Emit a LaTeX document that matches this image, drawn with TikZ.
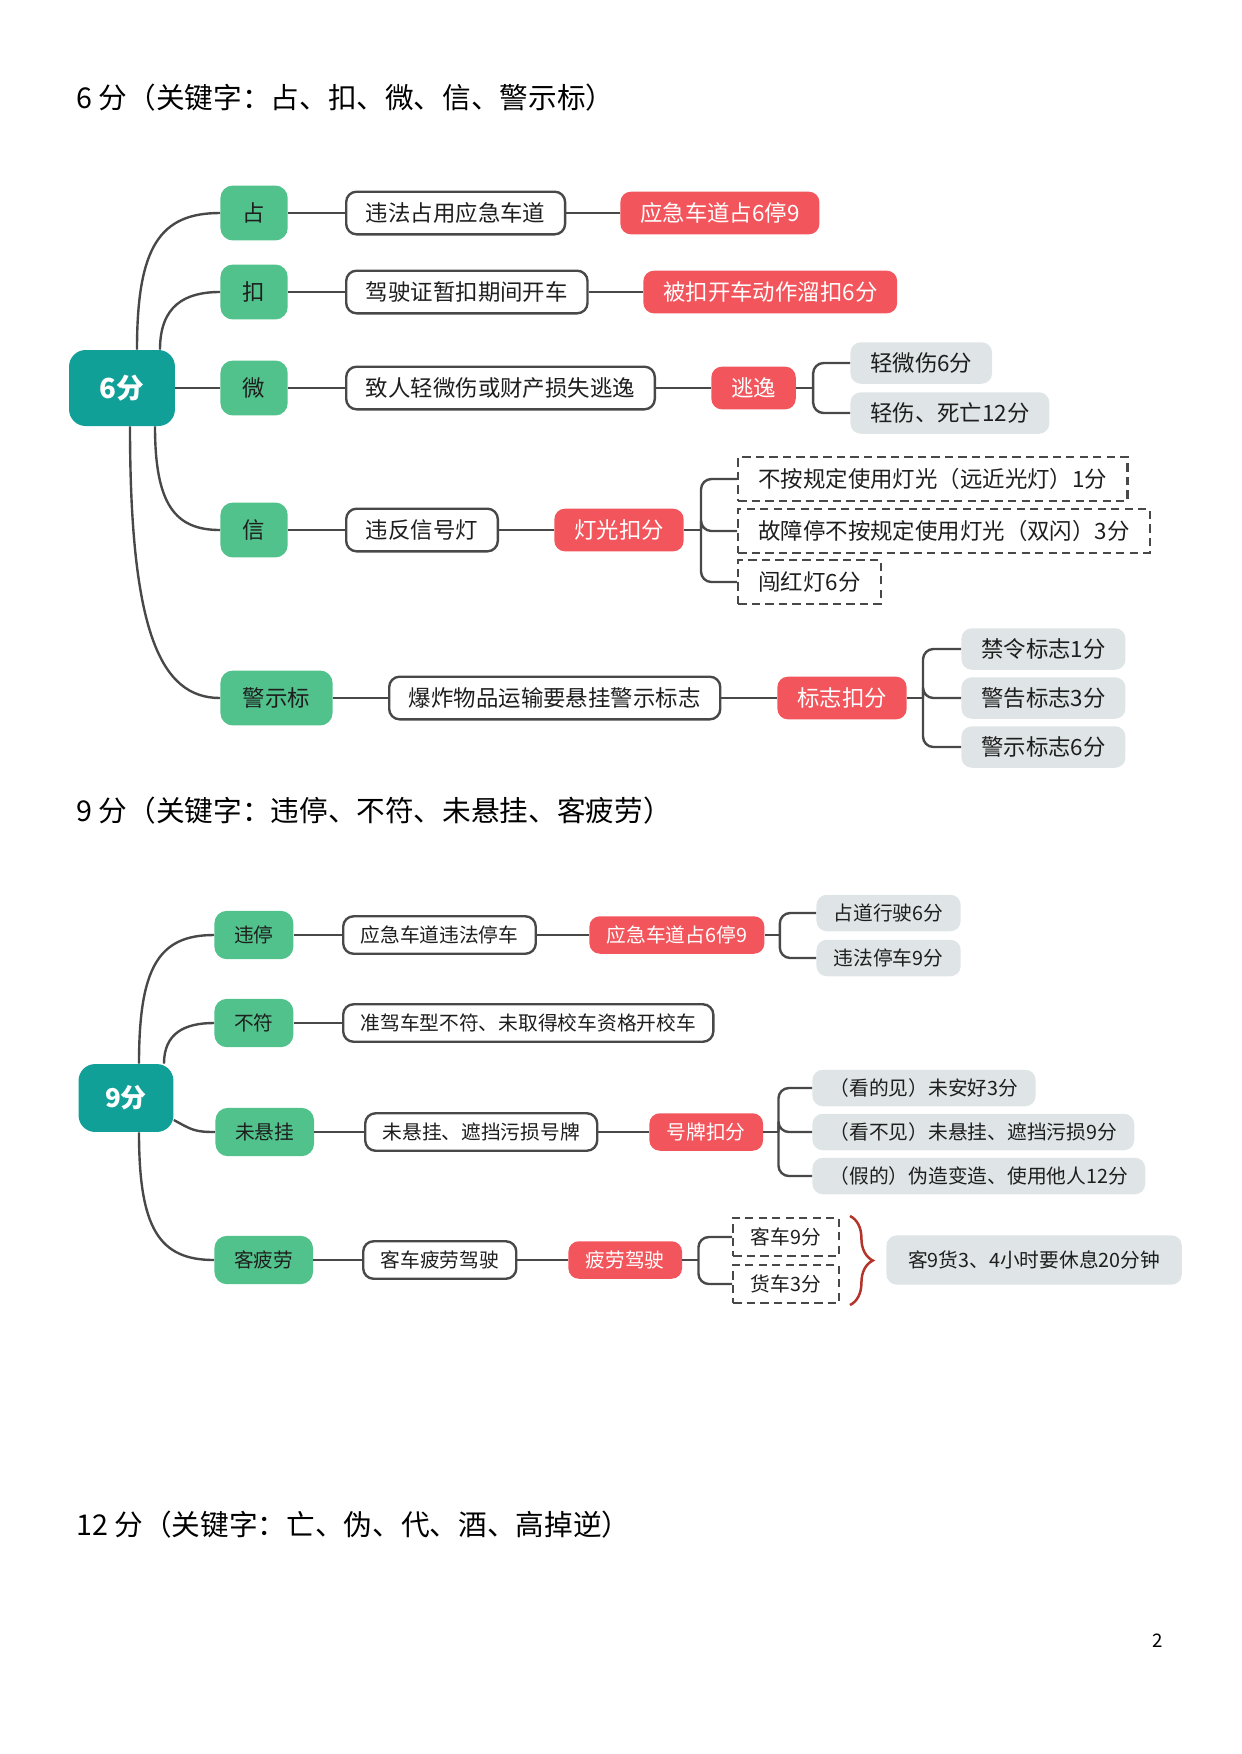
\documentclass[tikz,border=0pt]{standalone}
\usepackage{fontspec}
\setmainfont{Noto Sans CJK SC}
\usetikzlibrary{calc}
\usetikzlibrary{decorations.pathreplacing}

\definecolor{rootteal}{RGB}{17,160,151}
\definecolor{keygreen}{RGB}{82,194,140}
\definecolor{hotred}{RGB}{242,86,92}
\definecolor{leafgray}{RGB}{223,229,231}
\definecolor{linegray}{RGB}{72,72,72}
\definecolor{textdark}{RGB}{30,30,30}
\definecolor{bracered}{RGB}{178,52,42}

\tikzset{
  link/.style={draw=linegray, line width=1.15pt},
  heading/.style={anchor=west, inner sep=0pt, font=\fontsize{13.8}{16}\selectfont},
  rootbox/.style={fill=rootteal, text=white, rounded corners=8pt, inner sep=0pt},
  keybox/.style={fill=keygreen, text=textdark, rounded corners=6pt, anchor=west, inner xsep=1em, inner ysep=0pt, minimum height=2.45em},
  factbox/.style={draw=linegray, line width=1.15pt, fill=white, text=textdark, rounded corners=5pt, anchor=west, inner xsep=0.88em, inner ysep=0pt, minimum height=1.9em},
  hotbox/.style={fill=hotred, text=white, rounded corners=5pt, anchor=west, inner xsep=0.88em, inner ysep=0pt, minimum height=1.9em},
  leafbox/.style={fill=leafgray, text=textdark, rounded corners=5pt, anchor=west, inner xsep=0.88em, inner ysep=0pt, minimum height=1.85em},
  dashbox/.style={draw=linegray, line width=1.15pt, dash pattern=on 4pt off 2.5pt, fill=white, text=textdark, anchor=west, inner xsep=0.9em, inner ysep=0pt, minimum height=1.95em},
}

\begin{document}
\begin{tikzpicture}[x=0.4815pt, y=-0.4815pt]
\useasboundingbox (0,0) rectangle (1241,1754);

% 6 points
\node[heading] (title6) at (76,98) {6 分（关键字：占、扣、微、信、警示标）};
\begin{scope}
\fontsize{10.8}{13}\selectfont
\node[rootbox, font=\bfseries\fontsize{13.3}{15}\selectfont, minimum width=51pt, minimum height=36.6pt] (root6) at (122,388) {6分};
\node[keybox] (zhan) at (220,213) {占};
\node[keybox] (kou) at (220,292) {扣};
\node[keybox] (wei) at (220,388) {微};
\node[keybox] (xin) at (220,530) {信};
\node[keybox] (jing) at (220,698) {警示标};

\node[factbox] (zhanfact) at (345,213) {违法占用应急车道};
\node[factbox] (koufact) at (345,292) {驾驶证暂扣期间开车};
\node[factbox] (weifact) at (345,388) {致人轻微伤或财产损失逃逸};
\node[factbox] (xinfact) at (345,530) {违反信号灯};
\node[factbox] (jingfact) at (388,698) {爆炸物品运输要悬挂警示标志};

\node[hotbox] (zhanhot) at (620,213) {应急车道占6停9};
\node[hotbox] (kouhot) at (643,292) {被扣开车动作溜扣6分};
\node[hotbox] (weihot) at (711,388) {逃逸};
\node[hotbox] (xinhot) at (554,530) {灯光扣分};
\node[hotbox] (jinghot) at (777,698) {标志扣分};

\node[leafbox] (weia) at (850,363) {轻微伤6分};
\node[leafbox] (weib) at (850,413) {轻伤、死亡12分};
\node[dashbox] (xina) at (737,479) {不按规定使用灯光（远近光灯）1分};
\node[dashbox] (xinb) at (737,531) {故障停不按规定使用灯光（双闪）3分};
\node[dashbox] (xinc) at (737,582) {闯红灯6分};
\node[leafbox] (jinga) at (961,649) {禁令标志1分};
\node[leafbox] (jingb) at (961,698) {警告标志3分};
\node[leafbox] (jingc) at (961,747) {警示标志6分};

\draw[link] ($(root6.north)+(15,0)$) .. controls +(0,-103) and +(-60,0) .. (zhan.west);
\draw[link] ($(root6.north)+(38,0)$) .. controls +(0,-44) and +(-35,0) .. (kou.west);
\draw[link] (root6.east) -- (wei.west);
\draw[link] ($(root6.south)+(33,0)$) .. controls +(0,78) and +(-45,0) .. (xin.west);
\draw[link] ($(root6.south)+(8,0)$) .. controls +(0,204) and +(-60,0) .. (jing.west);

\foreach \a/\b in {zhan/zhanfact, kou/koufact, wei/weifact, xin/xinfact, jing/jingfact,
  zhanfact/zhanhot, koufact/kouhot, weifact/weihot, xinfact/xinhot, jingfact/jinghot}
  \draw[link] (\a.east) -- (\b.west);

\coordinate (weifork) at ($(weihot.east)+(17,0)$);
\coordinate (xinfork) at ($(xinhot.east)+(17,0)$);
\coordinate (jingfork) at ($(jinghot.east)+(16,0)$);
\draw[link] (weihot.east) -- (weifork);
\draw[link] (xinhot.east) -- (xinfork);
\draw[link] (jinghot.east) -- (jingfork);
\foreach \f/\c in {weifork/weia, weifork/weib, xinfork/xina, xinfork/xinb, xinfork/xinc,
  jingfork/jinga, jingfork/jingb, jingfork/jingc}
  \draw[link, rounded corners=5pt] (\f) |- (\c.west);
\end{scope}

% 9 points
\node[heading] (title9) at (76,811) {9 分（关键字：违停、不符、未悬挂、客疲劳）};
\begin{scope}
\fontsize{9.5}{11.5}\selectfont
\node[rootbox, font=\bfseries\fontsize{12.5}{14}\selectfont, minimum width=45.7pt, minimum height=32.7pt] (root9) at (126,1098) {9分};
\node[keybox] (weiting) at (214,935) {违停};
\node[keybox] (bufu) at (214,1023) {不符};
\node[keybox] (weixg) at (215,1132) {未悬挂};
\node[keybox] (kepl) at (214,1260) {客疲劳};

\node[factbox] (weitingfact) at (342,935) {应急车道违法停车};
\node[factbox] (bufufact) at (342,1023) {准驾车型不符、未取得校车资格开校车};
\node[factbox] (weixgfact) at (364,1132) {未悬挂、遮挡污损号牌};
\node[factbox] (keplfact) at (362,1260) {客车疲劳驾驶};

\node[hotbox] (weitinghot) at (589,935) {应急车道占6停9};
\node[hotbox] (weixghot) at (649,1132) {号牌扣分};
\node[hotbox] (keplhot) at (568,1260) {疲劳驾驶};

\node[leafbox] (weitinga) at (816,913) {占道行驶6分};
\node[leafbox] (weitingb) at (816,958) {违法停车9分};
\node[leafbox] (weixga) at (812,1088) {（看的见）未安好3分};
\node[leafbox] (weixgb) at (812,1132) {（看不见）未悬挂、遮挡污损9分};
\node[leafbox] (weixgc) at (812,1176) {（假的）伪造变造、使用他人12分};
\node[dashbox] (kepla) at (732,1237) {客车9分};
\node[dashbox] (keplb) at (732,1284) {货车3分};
\node[leafbox, inner xsep=1.1em, minimum height=2.5em] (keplnote) at (886,1260) {客9货3、4小时要休息20分钟};

\draw[link] ($(root9.north)+(13,0)$) .. controls +(0,-97) and +(-55,0) .. (weiting.west);
\draw[link] ($(root9.north)+(38,0)$) .. controls +(0,-30) and +(-30,0) .. (bufu.west);
\draw[link] ($(root9.east)+(0,22)$) .. controls +(18,10) and +(-20,0) .. (weixg.west);
\draw[link] ($(root9.south)+(13,0)$) .. controls +(0,96) and +(-55,0) .. (kepl.west);

\foreach \a/\b in {weiting/weitingfact, bufu/bufufact, weixg/weixgfact, kepl/keplfact,
  weitingfact/weitinghot, weixgfact/weixghot, keplfact/keplhot}
  \draw[link] (\a.east) -- (\b.west);

\coordinate (weitingfork) at ($(weitinghot.east)+(15,0)$);
\coordinate (weixgfork) at ($(weixghot.east)+(15,0)$);
\coordinate (keplfork) at ($(keplhot.east)+(16,0)$);
\draw[link] (weitinghot.east) -- (weitingfork);
\draw[link] (weixghot.east) -- (weixgfork);
\draw[link] (keplhot.east) -- (keplfork);
\foreach \f/\c in {weitingfork/weitinga, weitingfork/weitingb, weixgfork/weixga,
  weixgfork/weixgb, weixgfork/weixgc, keplfork/kepla, keplfork/keplb}
  \draw[link, rounded corners=5pt] (\f) |- (\c.west);

% brace
\coordinate (bracetop) at (850,1216);
\coordinate (bracebot) at (850,1305);
\draw[bracered, line width=1.2pt, decorate, decoration={brace, amplitude=11pt}] (bracetop) -- (bracebot);
\end{scope}

% 12 points
\node[heading] (title12) at (76,1525) {12 分（关键字：亡、伪、代、酒、高掉逆）};
\node[font=\fontsize{9}{11}\selectfont] (pageno) at (1158,1641) {2};
\end{tikzpicture}
\end{document}
